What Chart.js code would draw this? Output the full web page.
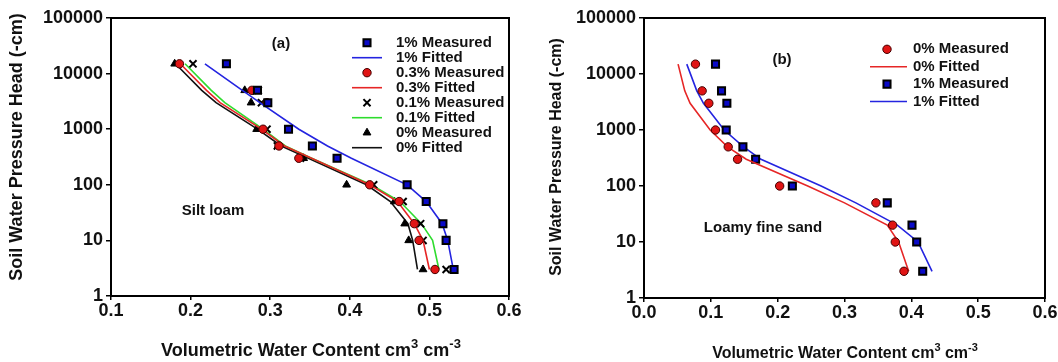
<!DOCTYPE html>
<html>
<head>
<meta charset="utf-8">
<script src="https://cdn.jsdelivr.net/npm/chart.js@4.4.1/dist/chart.umd.min.js"></script>
<style>
  html, body { margin: 0; padding: 0; background: #fff; }
  #wrap { position: relative; width: 1058px; height: 362px; }
  canvas { position: absolute; top: 0; }
  #silt { left: 0; }
  #sand { left: 529px; }
</style>
</head>
<body>
<div id="wrap">
  <canvas id="silt" width="529" height="362"></canvas>
  <canvas id="sand" width="529" height="362"></canvas>
</div>
<script>
// pressure heads (-cm) at which water content was measured / fitted
const heads = [15000, 5000, 3000, 1000, 500, 300, 100, 50, 20, 10, 3];

// (a) silt loam, water content cm3/cm3
const siltMeas1  = [0.245, 0.284, 0.297, 0.323, 0.353, 0.384, 0.472, 0.496, 0.517, 0.521, 0.531];
const siltFit1   = [0.218, 0.265, 0.287, 0.336, 0.372, 0.402, 0.472, 0.496, 0.516, 0.523, 0.530];
const siltMeas03 = [0.186, 0.277, 0.296, 0.291, 0.311, 0.336, 0.425, 0.462, 0.481, 0.487, 0.507];
const siltFit03  = [0.187, 0.220, 0.237, 0.289, 0.318, 0.352, 0.425, 0.460, 0.481, 0.492, 0.500];
const siltMeas01 = [0.203, 0.285, 0.289, 0.296, 0.309, 0.338, 0.430, 0.467, 0.489, 0.492, 0.521];
const siltFit01  = [0.193, 0.226, 0.243, 0.291, 0.319, 0.352, 0.427, 0.463, 0.490, 0.504, 0.512];
const siltMeas0  = [0.180, 0.268, 0.276, 0.283, 0.310, 0.342, 0.396, 0.456, 0.469, 0.474, 0.492];
const siltFit0   = [0.181, 0.214, 0.232, 0.284, 0.314, 0.348, 0.421, 0.451, 0.473, 0.479, 0.485];

// (b) loamy fine sand
const sandMeas0 = [0.077, 0.087, 0.097, 0.107, 0.126, 0.140, 0.203, 0.347, 0.372, 0.376, 0.389];
const sandFit0  = [0.051, 0.061, 0.069, 0.099, 0.125, 0.153, 0.245, 0.300, 0.364, 0.381, 0.396];
const sandMeas1 = [0.107, 0.116, 0.124, 0.123, 0.148, 0.167, 0.222, 0.364, 0.401, 0.408, 0.417];
const sandFit1  = [0.064, 0.079, 0.089, 0.120, 0.149, 0.175, 0.265, 0.317, 0.379, 0.410, 0.431];

const yTicks  = [1, 10, 100, 1000, 10000, 100000];
const xTicksA = [0.1, 0.2, 0.3, 0.4, 0.5, 0.6];
const xTicksB = [0.0, 0.1, 0.2, 0.3, 0.4, 0.5, 0.6];

const FONT = '"Liberation Sans", Arial, sans-serif';
Chart.defaults.font.family = FONT;
Chart.defaults.color = '#111';

const BLUE = '#2424e0', RED = '#e62626', GREEN = '#2edc2e', BLACK = '#111';

const pts = vals => vals.map((v, i) => ({ x: v, y: heads[i] }));

function measured(label, vals, style, fill, border, radius, bw) {
  return {
    label, data: pts(vals), showLine: false,
    pointStyle: style, pointRadius: radius, pointHoverRadius: radius,
    backgroundColor: fill, borderColor: border, borderWidth: bw
  };
}
function fitted(label, vals, color) {
  return {
    label, data: pts(vals), showLine: true, pointRadius: 0,
    borderColor: color, backgroundColor: color, borderWidth: 1.6, tension: 0
  };
}

// frame, legend, notes and axis titles
const panelDecor = {
  id: 'panelDecor',
  afterDraw(chart, args, o) {
    const { ctx, chartArea: a } = chart;
    ctx.save();
    ctx.strokeStyle = '#000';
    ctx.lineWidth = 2;
    ctx.strokeRect(a.left, a.top, a.right - a.left, a.bottom - a.top);

    ctx.fillStyle = '#111';
    ctx.textBaseline = 'middle';
    ctx.font = 'bold 15px ' + FONT;
    ctx.textAlign = 'center';
    o.notes.forEach(n => ctx.fillText(n.text, n.x, n.y));

    const L = o.legend;
    chart.data.datasets.forEach((ds, i) => {
      const y = L.top + i * L.step;
      ctx.save();
      if (ds.showLine) {
        ctx.strokeStyle = ds.borderColor;
        ctx.lineWidth = ds.borderWidth;
        ctx.beginPath();
        ctx.moveTo(L.lineFrom, y);
        ctx.lineTo(L.lineTo, y);
        ctx.stroke();
      } else {
        ctx.fillStyle = ds.backgroundColor;
        ctx.strokeStyle = ds.borderColor;
        ctx.lineWidth = ds.borderWidth;
        Chart.helpers.drawPoint(ctx, {
          pointStyle: ds.pointStyle, radius: ds.pointRadius,
          borderWidth: ds.borderWidth, rotation: 0
        }, L.symbolX, y);
      }
      ctx.restore();
      ctx.fillStyle = '#111';
      ctx.textAlign = 'left';
      ctx.font = 'bold 15px ' + FONT;
      ctx.fillText(ds.label, L.textX, y);
    });

    // y title, rotated
    const yt = o.yTitle;
    ctx.save();
    ctx.translate(yt.x, yt.y);
    ctx.rotate(-Math.PI / 2);
    ctx.textAlign = 'center';
    ctx.font = 'bold ' + yt.size + 'px ' + FONT;
    ctx.fillText('Soil Water Pressure Head (-cm)', 0, 0);
    ctx.restore();

    // x title with superscripts
    const xt = o.xTitle;
    const big = 'bold ' + xt.size + 'px ' + FONT;
    const small = 'bold ' + Math.round(xt.size * 0.7) + 'px ' + FONT;
    const parts = [
      ['Volumetric Water Content cm', false], ['3', true], [' cm', false], ['-3', true]
    ];
    let total = 0;
    parts.forEach(p => { ctx.font = p[1] ? small : big; total += ctx.measureText(p[0]).width; });
    let x = xt.x - total / 2;
    ctx.textAlign = 'left';
    ctx.textBaseline = 'alphabetic';
    parts.forEach(p => {
      ctx.font = p[1] ? small : big;
      ctx.fillText(p[0], x, p[1] ? xt.y - xt.size * 0.45 : xt.y);
      x += ctx.measureText(p[0]).width;
    });
    ctx.restore();
  }
};

function makePanel(id, xMin, xTicks, datasets, box, decor) {
  return new Chart(document.getElementById(id), {
    type: 'scatter',
    data: { datasets },
    plugins: [panelDecor],
    options: {
      responsive: false,
      animation: false,
      events: [],
      layout: { padding: { top: box.top, right: box.right, left: 0, bottom: 0 } },
      plugins: { legend: { display: false }, tooltip: { enabled: false }, panelDecor: decor },
      scales: {
        x: {
          type: 'linear', min: xMin, max: 0.6,
          afterBuildTicks: s => { s.ticks = xTicks.map(v => ({ value: v })); },
          afterFit: s => { s.height = box.xh; s.paddingLeft = 0; s.paddingRight = 0; },
          ticks: { callback: v => v.toFixed(1), font: { size: 18, weight: 'bold' }, padding: 0, maxRotation: 0, autoSkip: false },
          grid: { drawOnChartArea: false, tickLength: 4, color: '#000', lineWidth: 1.5 },
          border: { display: false }
        },
        y: {
          type: 'logarithmic', min: 1, max: 100000,
          afterBuildTicks: s => { s.ticks = yTicks.map(v => ({ value: v })); },
          afterFit: s => { s.width = box.yw; s.paddingTop = 0; s.paddingBottom = 0; },
          ticks: { callback: v => String(v), font: { size: 18, weight: 'bold' }, padding: 3, autoSkip: false },
          grid: { drawOnChartArea: false, tickLength: 5, color: '#000', lineWidth: 1.5 },
          border: { display: false }
        }
      }
    }
  });
}

makePanel('silt', 0.1, xTicksA, [
  measured('1% Measured', siltMeas1, 'rect', '#0a0ac8', '#000', 5, 2),
  fitted('1% Fitted', siltFit1, BLUE),
  measured('0.3% Measured', siltMeas03, 'circle', '#e01414', '#400', 4.2, 1),
  fitted('0.3% Fitted', siltFit03, RED),
  measured('0.1% Measured', siltMeas01, 'crossRot', '#000', '#000', 5, 2),
  fitted('0.1% Fitted', siltFit01, GREEN),
  measured('0% Measured', siltMeas0, 'triangle', '#000', '#000', 4.5, 1),
  fitted('0% Fitted', siltFit0, BLACK)
], { top: 18, right: 20, xh: 66, yw: 111 }, {
  notes: [{ text: '(a)', x: 281, y: 44 }, { text: 'Silt loam', x: 213, y: 211 }],
  legend: { top: 42.7, step: 15, symbolX: 367, lineFrom: 352, lineTo: 382, textX: 396 },
  yTitle: { x: 17, y: 147, size: 18 },
  xTitle: { x: 311, y: 356, size: 18 }
});

makePanel('sand', 0.0, xTicksB, [
  measured('0% Measured', sandMeas0, 'circle', '#e01414', '#400', 4.2, 1),
  fitted('0% Fitted', sandFit0, RED),
  measured('1% Measured', sandMeas1, 'rect', '#0a0ac8', '#000', 5, 2),
  fitted('1% Fitted', sandFit1, BLUE)
], { top: 18, right: 13, xh: 64, yw: 115 }, {
  notes: [{ text: '(b)', x: 253, y: 60 }, { text: 'Loamy fine sand', x: 234, y: 228 }],
  legend: { top: 49.3, step: 17.4, symbolX: 358, lineFrom: 341, lineTo: 378, textX: 384 },
  yTitle: { x: 28, y: 157, size: 16 },
  xTitle: { x: 316, y: 358, size: 16 }
});
</script>
</body>
</html>
